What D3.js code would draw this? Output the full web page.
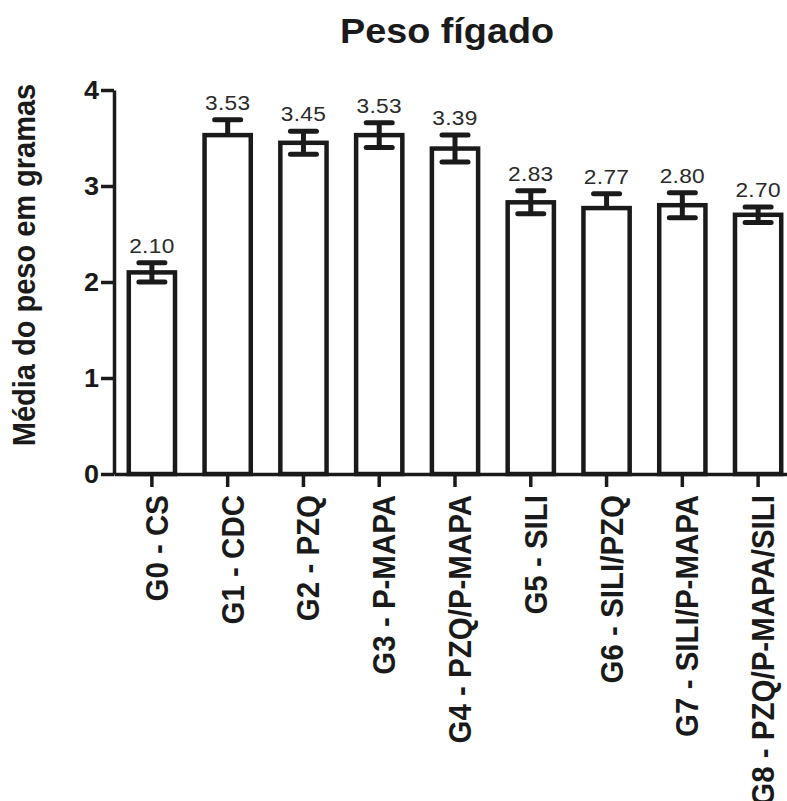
<!DOCTYPE html>
<html>
<head>
<meta charset="utf-8">
<script src="https://cdn.jsdelivr.net/npm/d3@7"></script>
<style>
  html, body { margin: 0; padding: 0; background: #fff; }
  svg { display: block; font-family: "Liberation Sans", Arial, Helvetica, sans-serif; }
</style>
</head>
<body>
<svg id="chart" width="787" height="801"></svg>
<script>
// Liver weight per group (mean ± error, grams)
const groups = [
  "G0 - CS", "G1 - CDC", "G2 - PZQ", "G3 - P-MAPA", "G4 - PZQ/P-MAPA",
  "G5 - SILI", "G6 - SILI/PZQ", "G7 - SILI/P-MAPA", "G8 - PZQ/P-MAPA/SILI"
];
const means  = [2.10, 3.53, 3.45, 3.53, 3.39, 2.83, 2.77, 2.80, 2.70];
const errors = [0.10, 0.16, 0.12, 0.13, 0.14, 0.12, 0.15, 0.13, 0.08];
// whether the error bar is drawn below the mean as well as above
const twoSided = [true, false, true, true, true, true, false, true, true];
const yTicks = [0, 1, 2, 3, 4];
const title = "Peso fígado";
const yTitle = "Média do peso em gramas";

const ink = "#1a1a1a";
const stretch = 1.08; // horizontal text stretch

const svg = d3.select("#chart");

const x = d3.scaleBand()
  .domain(groups)
  .range([114, 796])
  .paddingInner(0.39)
  .paddingOuter(0.195);

const y = d3.scaleLinear().domain([0, 4]).range([474, 90]);

// Title
svg.append("g")
  .attr("transform", `translate(447,43) scale(${stretch},1)`)
  .append("text")
  .attr("text-anchor", "middle")
  .attr("font-size", 35)
  .attr("font-weight", "bold")
  .attr("fill", ink)
  .text(title);

// Y axis title
svg.append("g")
  .attr("transform", `translate(35,265) scale(${stretch},1) rotate(-90)`)
  .append("text")
  .attr("text-anchor", "middle")
  .attr("font-size", 29)
  .attr("font-weight", "bold")
  .attr("fill", ink)
  .text(yTitle);

// Bars
const data = groups.map((g, i) => ({ g, m: means[i], e: errors[i], two: twoSided[i] }));

svg.append("g")
  .selectAll("rect")
  .data(data)
  .join("rect")
  .attr("x", d => x(d.g))
  .attr("width", x.bandwidth())
  .attr("y", d => y(d.m))
  .attr("height", d => y(0) - y(d.m))
  .attr("fill", "#fff")
  .attr("stroke", ink)
  .attr("stroke-width", 4.5);

// Error bars
const eb = svg.append("g")
  .attr("stroke", ink)
  .attr("stroke-width", 5)
  .attr("stroke-linecap", "round");

const capHalf = 13;
data.forEach(d => {
  const cx = x(d.g) + x.bandwidth() / 2;
  const top = y(d.m + d.e);
  const bottom = d.two ? y(d.m - d.e) : y(d.m);
  eb.append("line").attr("x1", cx).attr("x2", cx).attr("y1", top).attr("y2", bottom)
    .attr("stroke-linecap", "butt");
  eb.append("line").attr("x1", cx - capHalf).attr("x2", cx + capHalf).attr("y1", top).attr("y2", top);
  if (d.two) {
    eb.append("line").attr("x1", cx - capHalf).attr("x2", cx + capHalf).attr("y1", bottom).attr("y2", bottom);
  }
});

// Value labels above the error bars
const fmt = d3.format(".2f");
svg.append("g")
  .selectAll("g")
  .data(data)
  .join("g")
  .attr("transform", d => `translate(${x(d.g) + x.bandwidth() / 2},${y(d.m + d.e) - 10}) scale(${stretch},1)`)
  .append("text")
  .attr("text-anchor", "middle")
  .attr("font-size", 21)
  .attr("letter-spacing", 0.3)
  .attr("fill", "#2a2a2a")
  .text(d => fmt(d.m));

// Y axis
const yAxis = svg.append("g")
  .attr("transform", `translate(${114},0)`)
  .call(d3.axisLeft(y).tickValues(yTicks).tickFormat(d3.format("d")).tickSize(13).tickSizeOuter(0).tickPadding(2));
yAxis.select(".domain").attr("stroke", ink).attr("stroke-width", 3.5);
yAxis.selectAll(".tick line").attr("stroke", ink).attr("stroke-width", 3.5);
yAxis.selectAll(".tick text")
  .attr("font-size", 25)
  .attr("font-weight", "bold")
  .attr("font-family", "Liberation Sans, Arial, sans-serif")
  .attr("fill", ink)
  .attr("x", -15 / stretch)
  .attr("transform", `scale(${stretch},1)`);

// X axis
const xAxis = svg.append("g")
  .attr("transform", `translate(0,${y(0)})`)
  .call(d3.axisBottom(x).tickSize(13).tickSizeOuter(0));
xAxis.select(".domain").attr("stroke", ink).attr("stroke-width", 3.5);
xAxis.selectAll(".tick line").attr("stroke", ink).attr("stroke-width", 3.5);
xAxis.selectAll(".tick text")
  .attr("font-size", 29.5)
  .attr("font-weight", "bold")
  .attr("font-family", "Liberation Sans, Arial, sans-serif")
  .attr("fill", ink)
  .attr("text-anchor", "end")
  .attr("x", -21)
  .attr("y", 16 / stretch)
  .attr("dy", 0)
  .attr("transform", `scale(${stretch},1) rotate(-90)`);
</script>
</body>
</html>
